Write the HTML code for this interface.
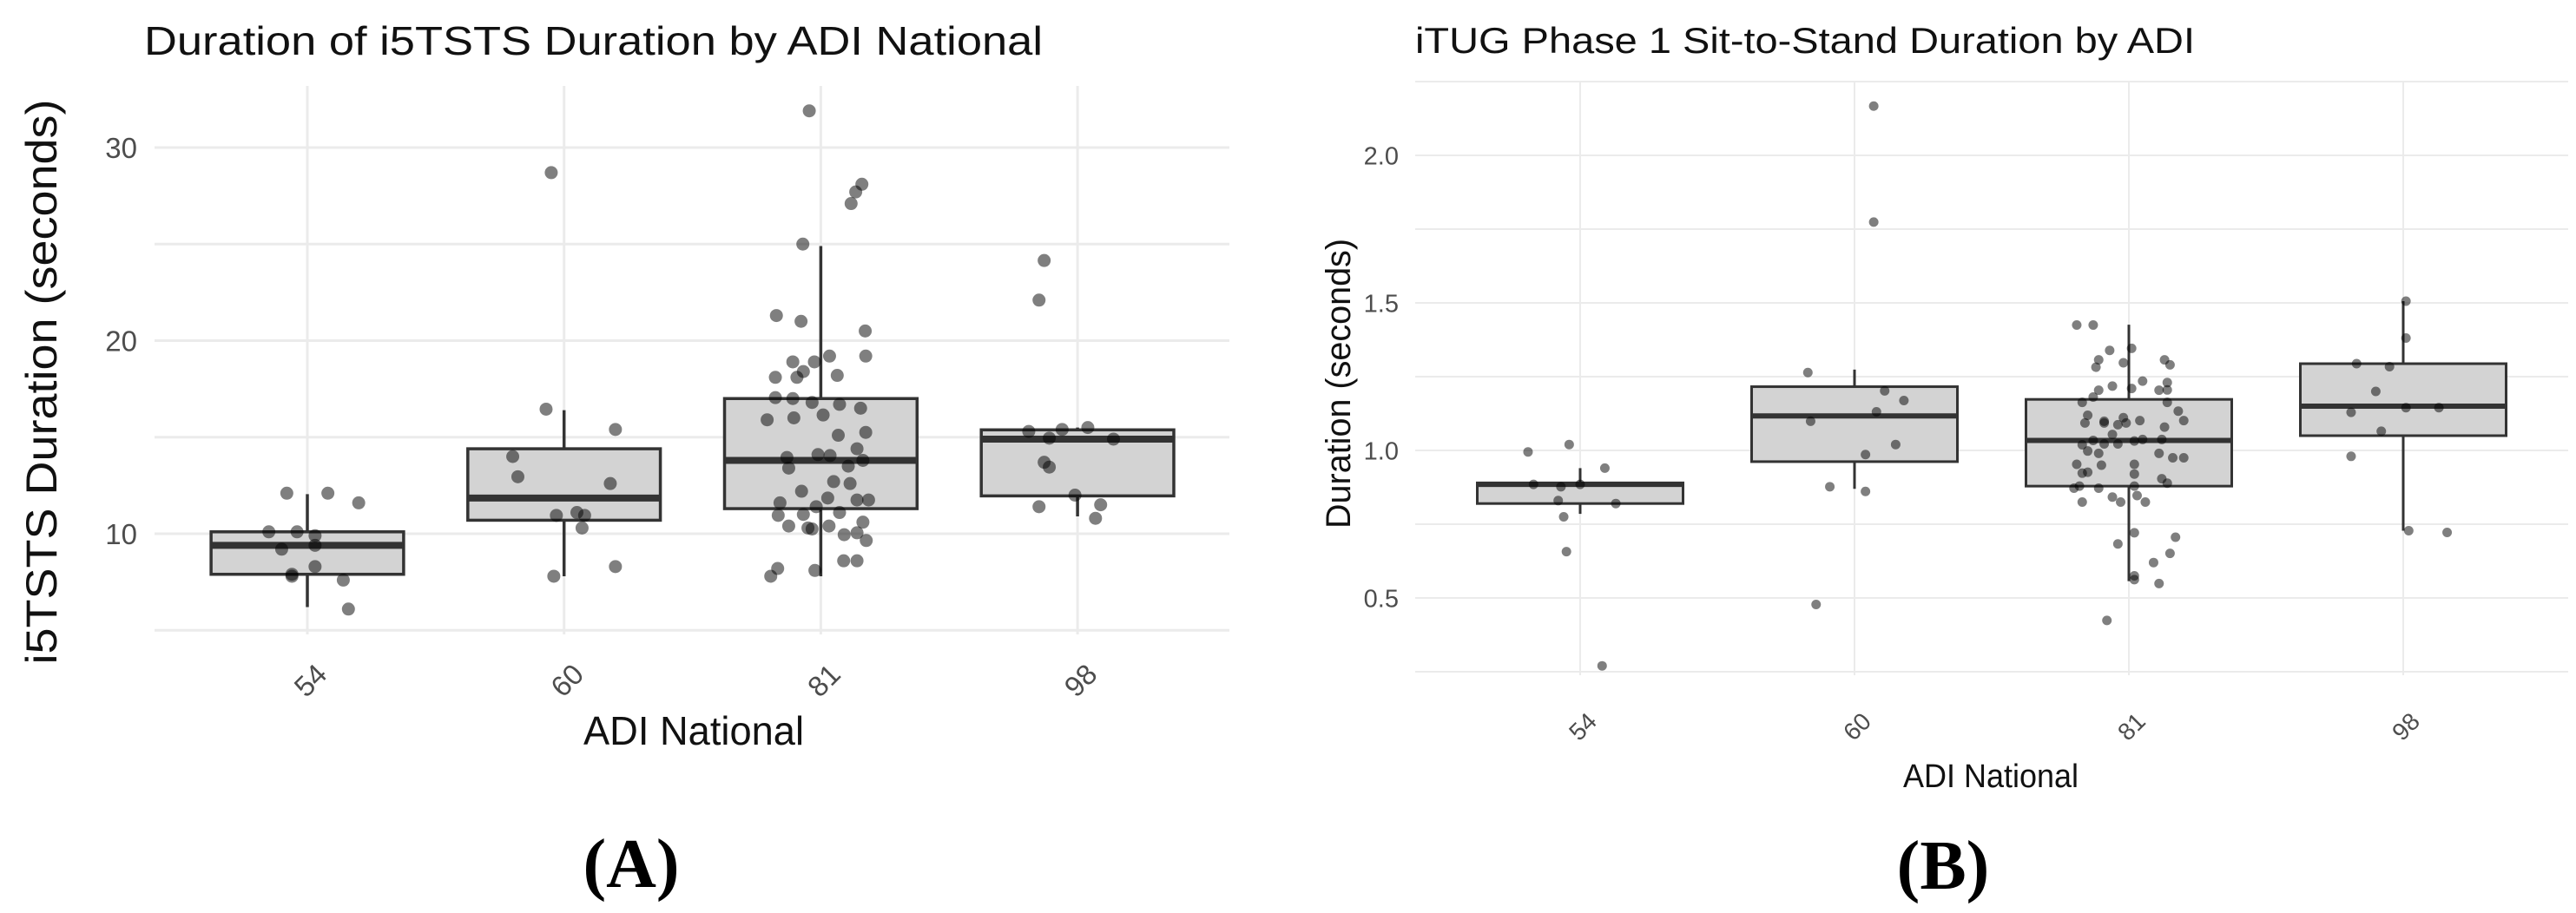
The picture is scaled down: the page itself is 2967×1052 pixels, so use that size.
<!DOCTYPE html>
<html><head><meta charset="utf-8"><style>
html,body{margin:0;padding:0;background:#fff;}
svg{display:block;}
text{font-family:"Liberation Sans",sans-serif;}
</style></head><body>
<svg id="fig" width="2967" height="1052" viewBox="0 0 2967 1052" xmlns="http://www.w3.org/2000/svg">
<g id="pa"></g>
<g id="pb"></g>
<text x="166" y="63" font-size="46" textLength="1035" lengthAdjust="spacingAndGlyphs" fill="#111">Duration of i5TSTS Duration by ADI National</text>
<text transform="translate(65,440) rotate(-90)" text-anchor="middle" font-size="50" textLength="651" lengthAdjust="spacingAndGlyphs" fill="#111">i5TSTS Duration (seconds)</text>
<text x="799" y="858" text-anchor="middle" font-size="46" textLength="254" lengthAdjust="spacingAndGlyphs" fill="#111">ADI National</text>
<text x="727" y="1022" text-anchor="middle" font-size="80" font-weight="bold" style="font-family:'Liberation Serif',serif" fill="#000">(A)</text>
<text x="1630" y="61" font-size="42" textLength="898" lengthAdjust="spacingAndGlyphs" fill="#111">iTUG Phase 1 Sit-to-Stand Duration by ADI</text>
<text transform="translate(1555,442) rotate(-90)" text-anchor="middle" font-size="40" textLength="334" lengthAdjust="spacingAndGlyphs" fill="#111">Duration (seconds)</text>
<text x="2293" y="907" text-anchor="middle" font-size="38" textLength="202" lengthAdjust="spacingAndGlyphs" fill="#111">ADI National</text>
<text x="2238" y="1024" text-anchor="middle" font-size="80" font-weight="bold" style="font-family:'Liberation Serif',serif" fill="#000">(B)</text>
</svg>
<script>
// ---------- Panel A data ----------
const catsA = ["54","60","81","98"];
const ticksA = [10,20,30];
const minorA = [5,15,25];
const boxA_q1 = [7.9,10.7,11.3,11.96];
const boxA_med = [9.4,11.85,13.8,14.9];
const boxA_q3 = [10.1,14.4,17.0,15.38];
const boxA_lo = [6.2,7.8,7.8,10.9];
const boxA_hi = [12.05,16.4,24.9,15.5];
const ptsA_54 = [12.1,12.1,11.6,10.1,10.1,9.9,9.2,9.4,8.3,7.8,7.9,7.6,6.1];
const jitA_54 = [-0.08,0.08,0.2,-0.15,-0.04,0.03,-0.1,0.03,0.03,-0.06,-0.06,0.14,0.16];
const ptsA_60 = [28.7,16.45,15.4,14.0,12.95,12.6,10.95,11.1,10.95,10.3,7.8,8.3];
const jitA_60 = [-0.05,-0.07,0.2,-0.2,-0.18,0.18,-0.03,0.05,0.08,0.07,-0.04,0.2];
const ptsA_81 = [31.9,28.1,27.7,27.1,25.0,21.3,21.0,20.5,19.2,19.2,18.9,18.9,18.1,18.2,18.1,18.4,17.05,17.0,16.8,16.7,16.5,16.15,15.9,16.0,15.25,15.1,13.95,14.1,14.05,14.4,13.8,13.4,13.5,12.7,12.2,12.6,11.6,11.85,11.75,11.75,10.95,11.0,11.4,11.1,10.4,10.25,10.4,10.6,9.95,10.05,9.65,8.6,8.6,8.2,7.8,8.1,10.3];
const jitA_81 = [-0.045,0.16,0.136,0.118,-0.07,-0.173,-0.077,0.173,0.175,0.034,-0.025,-0.109,-0.177,0.064,-0.093,-0.068,-0.177,-0.109,-0.034,0.073,0.155,0.009,-0.209,-0.105,0.175,0.068,-0.132,-0.011,0.036,0.141,0.164,-0.125,0.107,0.05,-0.075,0.114,-0.159,0.027,0.141,0.186,-0.166,-0.068,-0.018,0.073,-0.125,-0.034,0.032,0.164,0.091,0.141,0.177,0.089,0.141,-0.168,-0.195,-0.023,-0.05];
const ptsA_98 = [24.15,22.1,15.3,15.4,15.5,14.95,14.9,13.7,13.45,12.0,11.4,11.5,10.8];
const jitA_98 = [-0.13,-0.15,-0.19,-0.06,0.04,-0.11,0.14,-0.13,-0.11,-0.01,-0.15,0.09,0.07];
// ---------- Panel B data ----------
const catsB = ["54","60","81","98"];
const ticksB = [0.5,1.0,1.5,2.0];
const minorB = [0.25,0.75,1.25,1.75,2.25];
const boxB_q1 = [0.82,0.962,0.879,1.05];
const boxB_med = [0.885,1.117,1.034,1.15];
const boxB_q3 = [0.89,1.216,1.173,1.294];
const boxB_lo = [0.785,0.87,0.557,0.728];
const boxB_hi = [0.94,1.274,1.426,1.506];
const ptsB_54 = [0.995,1.02,0.94,0.885,0.877,0.885,0.83,0.82,0.775,0.657,0.27];
const jitB_54 = [-0.19,-0.04,0.09,-0.17,-0.07,0.0,-0.08,0.13,-0.06,-0.05,0.08];
const ptsB_60 = [2.167,1.774,1.264,1.202,1.169,1.099,1.131,1.02,0.986,0.877,0.861,0.478];
const jitB_60 = [0.07,0.07,-0.17,0.11,0.18,-0.16,0.08,0.15,0.04,-0.09,0.04,-0.14];
const ptsB_81 = [1.425,1.425,1.339,1.346,1.307,1.282,1.297,1.307,1.29,1.235,1.218,1.21,1.204,1.181,1.163,1.204,1.23,1.205,1.163,1.133,1.101,1.119,1.093,1.099,1.093,1.111,1.093,1.087,1.101,1.079,1.054,1.034,1.019,0.998,1.022,0.99,1.022,1.032,1.037,1.037,0.99,0.975,0.975,0.953,0.95,0.953,0.926,0.923,0.92,0.904,0.889,0.872,0.879,0.872,0.879,0.842,0.825,0.847,0.825,0.825,0.721,0.706,0.683,0.651,0.62,0.575,0.562,0.549,0.424];
const jitB_81 = [-0.19,-0.13,-0.07,0.01,-0.11,-0.12,-0.02,0.13,0.15,0.05,-0.06,0.01,-0.11,-0.13,-0.17,0.11,0.14,0.14,0.14,0.18,0.2,-0.15,-0.16,-0.09,-0.09,-0.02,-0.01,-0.04,0.04,0.13,-0.06,-0.13,-0.17,-0.15,-0.09,-0.11,-0.04,0.02,0.05,0.12,0.11,0.16,0.2,-0.19,-0.1,0.02,-0.15,-0.17,0.02,0.12,0.14,-0.2,-0.18,-0.11,0.02,-0.06,-0.03,0.03,0.06,-0.17,0.02,0.17,-0.04,0.15,0.09,0.02,0.02,0.11,-0.08];
const ptsB_98 = [1.506,1.381,1.294,1.284,1.2,1.129,1.145,1.145,1.065,0.98,0.728,0.722];
const jitB_98 = [0.01,0.01,-0.17,-0.05,-0.1,-0.19,0.01,0.13,-0.08,-0.19,0.02,0.16];

const NS = "http://www.w3.org/2000/svg";
function mk(parent, tag, attrs){const e=document.createElementNS(NS,tag);for(const k in attrs)e.setAttribute(k,attrs[k]);parent.appendChild(e);return e;}

function drawPanel(g, cfg){
  const x = i => cfg.x0 + i*cfg.step;
  const y = v => cfg.yRef - (v - cfg.vRef)*cfg.pxPerUnit;
  cfg.minor.concat(cfg.ticks).forEach(v=>{
    const l=mk(g,"line",{x1:cfg.left,x2:cfg.right,y1:y(v),y2:y(v),stroke:"#ebebeb","stroke-width":cfg.gw});
    
    
  });
  cfg.cats.forEach((c,i)=>{
    const l=mk(g,"line",{x1:x(i),x2:x(i),y1:cfg.top,y2:cfg.bottom,stroke:"#ebebeb","stroke-width":cfg.gw});
    
    
  });
  cfg.ticks.forEach(v=>{
    const t=mk(g,"text",{x:cfg.tickX,y:y(v)+cfg.tfs*0.36,"text-anchor":"end","font-size":cfg.tfs,fill:"#4d4d4d"});
    t.textContent = cfg.fmt(v);
    
    
  });
  cfg.cats.forEach((c,i)=>{
    const t=mk(g,"text",{transform:`translate(${x(i)+cfg.xtfs*0.35},${cfg.xtY}) rotate(-45)`,"text-anchor":"middle","font-size":cfg.xtfs,fill:"#4d4d4d"});
    t.textContent=c;
    
    
  });
  cfg.cats.forEach((c,i)=>{
    const bw=cfg.step*0.75, cx=x(i);
    const w=mk(g,"line",{x1:cx,x2:cx,y1:y(cfg.hi[i]),y2:y(cfg.lo[i]),stroke:"#333","stroke-width":cfg.sw});
    
    
    const r=mk(g,"rect",{x:cx-bw/2,y:y(cfg.q3[i]),width:bw,height:y(cfg.q1[i])-y(cfg.q3[i]),fill:"#d3d3d3",stroke:"#333","stroke-width":cfg.sw});
    
    
    const m=mk(g,"line",{x1:cx-bw/2,x2:cx+bw/2,y1:y(cfg.med[i]),y2:y(cfg.med[i]),stroke:"#333","stroke-width":cfg.mw});
    
    
  });
  cfg.pts.forEach((arr,i)=>{
    arr.forEach((v,k)=>{
      const p=mk(g,"circle",{cx:x(i)+cfg.jit[i][k]*cfg.step,cy:y(v),r:cfg.pr,fill:"rgba(0,0,0,0.5)"});
      
      
    });
  });
}

drawPanel(document.getElementById("pa"),{
  cats:catsA,ticks:ticksA,minor:minorA,x0:354,step:295.7,yRef:615,vRef:10,pxPerUnit:22.25,
  left:178,right:1416,top:99,bottom:731,gw:3,sw:3.5,mw:8,pr:7.5,
  tickX:158,tfs:33,xtfs:33,xtY:792,fmt:v=>String(v),
  q1:boxA_q1,med:boxA_med,q3:boxA_q3,lo:boxA_lo,hi:boxA_hi,
  pts:[ptsA_54,ptsA_60,ptsA_81,ptsA_98],jit:[jitA_54,jitA_60,jitA_81,jitA_98]
});
drawPanel(document.getElementById("pb"),{
  cats:catsB,ticks:ticksB,minor:minorB,x0:1820,step:316,yRef:519,vRef:1,pxPerUnit:340,
  left:1630,right:2958,top:93,bottom:778,gw:2,sw:3,mw:6,pr:5.5,
  tickX:1611,tfs:29,xtfs:28,xtY:844,fmt:v=>v.toFixed(1),
  q1:boxB_q1,med:boxB_med,q3:boxB_q3,lo:boxB_lo,hi:boxB_hi,
  pts:[ptsB_54,ptsB_60,ptsB_81,ptsB_98],jit:[jitB_54,jitB_60,jitB_81,jitB_98]
});
</script>
</body></html>
